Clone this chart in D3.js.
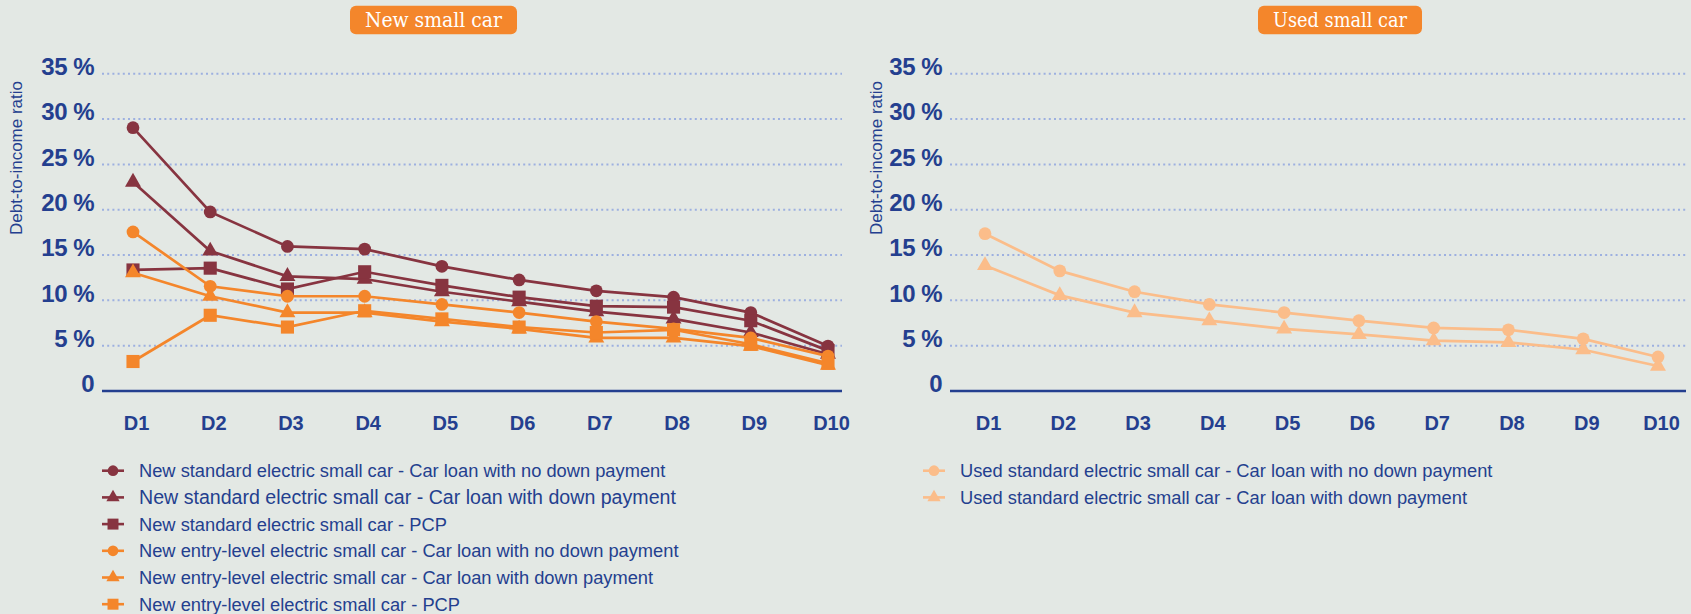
<!DOCTYPE html>
<html>
<head>
<meta charset="utf-8">
<script src="https://cdn.jsdelivr.net/npm/d3@7"></script>
<style>
  body { margin: 0; background: #e3e8e4; }
  svg { display: block; }
  text { font-family: "Liberation Sans", Arial, sans-serif; fill: #243f8f; }
</style>
</head>
<body>
<div id="chart"></div>
<script>
// deciles on the x axis
var categories = ["D1", "D2", "D3", "D4", "D5", "D6", "D7", "D8", "D9", "D10"];
var yTicks = [0, 5, 10, 15, 20, 25, 30, 35];

// debt-to-income ratio in %
var newStdNoDown   = [29.0, 19.7, 15.9, 15.6, 13.7, 12.2, 11.0, 10.3, 8.6, 4.9];
var newStdDown     = [23.0, 15.4, 12.6, 12.3, 10.9, 9.8, 8.7, 7.9, 6.4, 4.0];
var newStdPcp      = [13.3, 13.5, 11.2, 13.1, 11.6, 10.3, 9.3, 9.2, 7.7, 4.4];
var newEntryNoDown = [17.5, 11.5, 10.4, 10.4, 9.5, 8.6, 7.6, 6.8, 5.8, 3.8];
var newEntryDown   = [13.0, 10.4, 8.6, 8.6, 7.6, 6.8, 5.8, 5.8, 4.9, 2.8];
var newEntryPcp    = [3.2, 8.3, 7.0, 8.8, 7.9, 7.0, 6.4, 6.7, 5.1, 3.0];
var usedStdNoDown  = [17.3, 13.2, 10.9, 9.5, 8.6, 7.7, 6.9, 6.7, 5.7, 3.7];
var usedStdDown    = [13.8, 10.5, 8.6, 7.7, 6.8, 6.2, 5.5, 5.3, 4.5, 2.7];

var maroon = "#873440", orange = "#f4862b", peach = "#fbbd8a", blue = "#243f8f";

var width = 1691, height = 614;

var svg = d3.select("#chart").append("svg")
    .attr("width", width)
    .attr("height", height);

var panels = [
  {
    title: "New small car", badge: [350, 517],
    axisLeft: 102, axisRight: 842, first: 133, last: 828,
    titleX: 16, legendX: 113,
    series: [
      {name: "New standard electric small car - Car loan with no down payment", values: newStdNoDown, color: maroon, shape: "circle"},
      {name: "New standard electric small car - Car loan with down payment", values: newStdDown, color: maroon, shape: "triangle", big: true},
      {name: "New standard electric small car - PCP", values: newStdPcp, color: maroon, shape: "square"},
      {name: "New entry-level electric small car - Car loan with no down payment", values: newEntryNoDown, color: orange, shape: "circle"},
      {name: "New entry-level electric small car - Car loan with down payment", values: newEntryDown, color: orange, shape: "triangle"},
      {name: "New entry-level electric small car - PCP", values: newEntryPcp, color: orange, shape: "square"}
    ]
  },
  {
    title: "Used small car", badge: [1258, 1422],
    axisLeft: 950, axisRight: 1686, first: 985, last: 1658,
    titleX: 876, legendX: 934,
    series: [
      {name: "Used standard electric small car - Car loan with no down payment", values: usedStdNoDown, color: peach, shape: "circle"},
      {name: "Used standard electric small car - Car loan with down payment", values: usedStdDown, color: peach, shape: "triangle"}
    ]
  }
];

var y = d3.scaleLinear().domain([0, 35]).range([390.5, 73.3]);

var symbolTypes = {circle: d3.symbolCircle, triangle: d3.symbolTriangle, square: d3.symbolSquare};
var symbolSizes = {circle: 128, triangle: 110, square: 172};

function drawPanel(p) {
  var g = svg.append("g");

  var x = d3.scalePoint().domain(categories).range([p.first, p.last]);

  // title badge
  g.append("rect")
      .attr("x", p.badge[0]).attr("y", 5.7)
      .attr("width", p.badge[1] - p.badge[0]).attr("height", 28.6)
      .attr("rx", 6)
      .attr("fill", orange);
  g.append("text")
      .attr("x", (p.badge[0] + p.badge[1]) / 2).attr("y", 27)
      .attr("text-anchor", "middle")
      .attr("textLength", p.badge[1] - p.badge[0] - 30)
      .attr("lengthAdjust", "spacingAndGlyphs")
      .style("font-family", "'DejaVu Serif', serif")
      .style("font-size", "20px")
      .style("fill", "#fff")
      .text(p.title);

  // y axis with dotted grid
  var yAxis = g.append("g")
      .attr("transform", "translate(" + p.axisLeft + ",0)")
      .call(d3.axisLeft(y)
        .tickValues(yTicks)
        .tickSize(-(p.axisRight - p.axisLeft))
        .tickPadding(8)
        .tickFormat(function(d) { return d === 0 ? "0" : d + " %"; }));
  yAxis.select(".domain").remove();
  yAxis.selectAll(".tick line")
      .attr("stroke", "#9db0e0")
      .attr("stroke-width", 2)
      .attr("stroke-dasharray", "2,3.2")
      .filter(function(d) { return d === 0; })
      .attr("stroke", blue)
      .attr("stroke-width", 2.7)
      .attr("stroke-dasharray", null);
  yAxis.selectAll(".tick text")
      .attr("dy", "0.05em")
      .style("font-size", "24px")
      .style("font-weight", "bold")
      .style("letter-spacing", "-0.5px")
      .style("fill", blue);

  g.append("text")
      .attr("transform", "translate(" + p.titleX + ",158) rotate(-90)")
      .attr("text-anchor", "middle")
      .attr("dy", "0.35em")
      .style("font-size", "17px")
      .text("Debt-to-income ratio");

  // x axis labels
  var xAxis = g.append("g")
      .attr("transform", "translate(3," + y(0) + ")")
      .call(d3.axisBottom(x).tickSize(0).tickPadding(25));
  xAxis.select(".domain").remove();
  xAxis.selectAll(".tick text")
      .style("font-size", "20px")
      .style("font-weight", "bold")
      .style("fill", blue);

  var line = d3.line()
      .x(function(d, i) { return x(categories[i]); })
      .y(function(d) { return y(d); });

  p.series.forEach(function(s) {
    g.append("path")
        .datum(s.values)
        .attr("fill", "none")
        .attr("stroke", s.color)
        .attr("stroke-width", 2.7)
        .attr("d", line);
    g.selectAll(null)
        .data(s.values)
      .enter().append("path")
        .attr("transform", function(d, i) { return "translate(" + x(categories[i]) + "," + y(d) + ")"; })
        .attr("d", d3.symbol().type(symbolTypes[s.shape]).size(symbolSizes[s.shape]))
        .attr("fill", s.color);
  });

  // legend
  var legend = g.selectAll(".legend")
      .data(p.series)
    .enter().append("g")
      .attr("transform", function(d, i) { return "translate(" + p.legendX + "," + (470.7 + i * 26.7) + ")"; });
  legend.append("line")
      .attr("x1", -11).attr("x2", 11)
      .attr("stroke", function(d) { return d.color; })
      .attr("stroke-width", 2.6);
  legend.append("path")
      .attr("d", function(d) { return d3.symbol().type(symbolTypes[d.shape]).size(symbolSizes[d.shape] * 0.7)(); })
      .attr("fill", function(d) { return d.color; });
  legend.append("text")
      .attr("x", 26)
      .attr("dy", "0.35em")
      .style("font-size", function(d) { return d.big ? "19.6px" : "18.3px"; })
      .text(function(d) { return d.name; });
}

panels.forEach(drawPanel);
</script>
</body>
</html>
